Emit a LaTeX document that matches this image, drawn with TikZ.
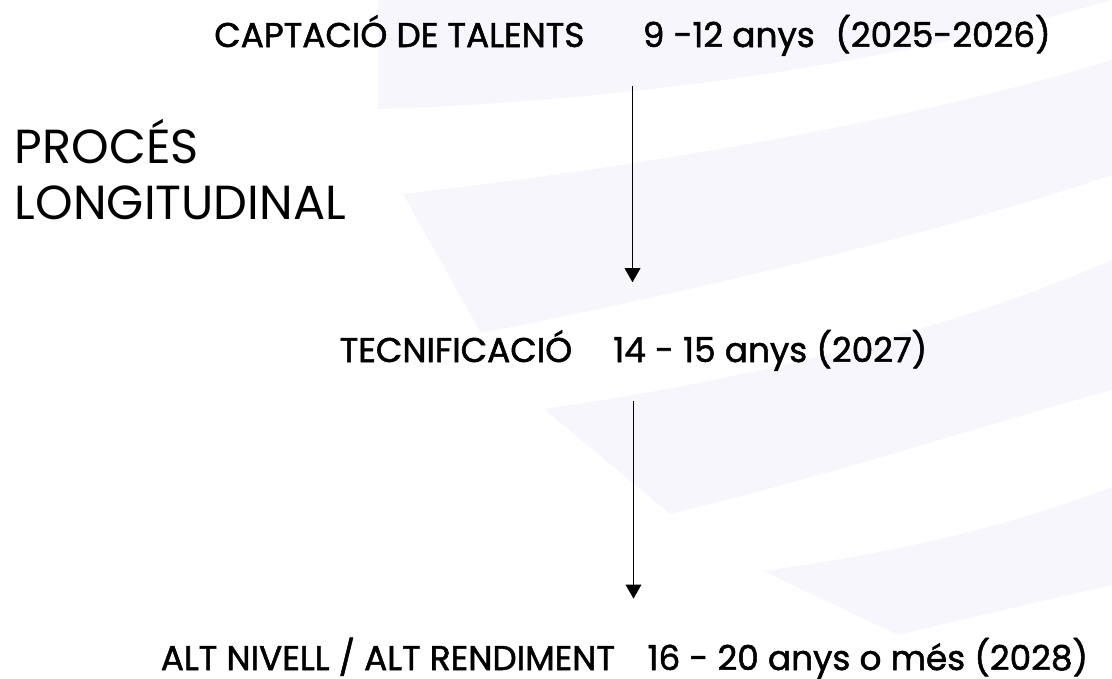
\documentclass[tikz,border=0pt]{standalone}
\usepackage{fontspec}
\setmainfont{Poppins}
\newfontfamily\medfont{Poppins}[FakeBold=1.5]
\usepackage{tikz}
\usetikzlibrary{arrows.meta,positioning,backgrounds,calc}
\definecolor{bandcol}{RGB}{246,246,252}

\begin{document}
\begin{tikzpicture}[x=0.025cm, y=-0.025cm, >={Triangle[length=10pt,width=11pt]},
   line width=1.4pt,
   lbl/.style={inner sep=0pt, text height=17pt, text depth=6pt, font=\medfont\fontsize{24.4}{28}\selectfont},
   titol/.style={inner sep=0pt, align=left, font=\fontsize{34}{40}\selectfont},
   band/.style={fill=bandcol, draw=none}]
  \useasboundingbox (0,0) rectangle (1112,678);
  % background bands
  \fill[band] (378,0) -- (378,109) .. controls (650,100) and (900,60) .. (1112,0) -- cycle;
  \fill[band] (403,194) -- (481,333) .. controls (700,290) and (950,230) .. (1112,175) -- (1112,60) .. controls (950,110) and (700,160) .. (403,194);
  \fill[band] (544,409) -- (670,514) .. controls (850,470) and (1000,420) .. (1112,390) -- (1112,260) .. controls (950,330) and (750,380) .. (544,409);
  \fill[band] (763,571) -- (898,635) .. controls (1000,610) and (1070,595) .. (1112,585) -- (1112,487) .. controls (1000,530) and (880,555) .. (763,571);
  % stages
  \node[lbl, anchor=base] (captacio) at (632.5,47) {CAPTACIÓ DE TALENTS\hspace{1.7em}9 -12 anys\hspace{0.6em}(2025-2026)};
  \node[lbl, anchor=base] (tecnif) at (633.5,362) {TECNIFICACIÓ\hspace{1.2em}14 - 15 anys (2027)};
  \node[lbl, anchor=base] (altnivell) at (624.5,670) {ALT NIVELL / ALT RENDIMENT\hspace{0.95em}16 - 20 anys o més (2028)};
  \node[titol, anchor=north west] (proces) at (14,118) {PROCÉS\\LONGITUDINAL};
  % \node[lbl] (t0) at (0,0) {};
  \draw[->, shorten <=21pt, shorten >=39pt] (captacio.south) -- (captacio.south |- tecnif.north);
  \draw[->, shorten <=21pt, shorten >=33pt] (tecnif.south) -- (tecnif.south |- altnivell.north);
\end{tikzpicture}
\end{document}
